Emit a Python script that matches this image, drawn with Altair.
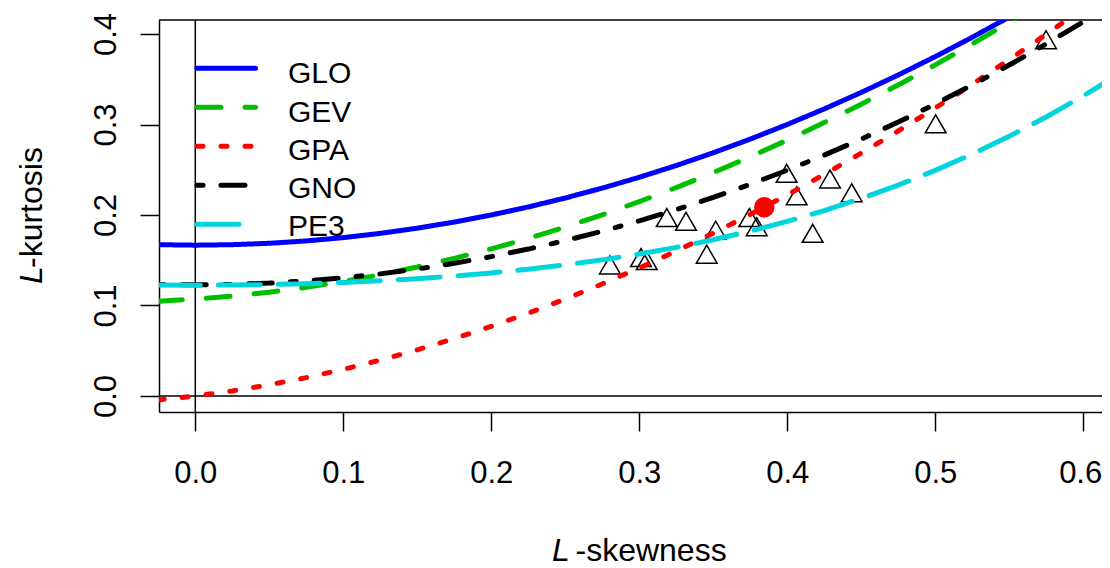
import altair as alt
import pandas as pd

# ---------------- data ----------------
t3_grid = [-0.025, 0.0, 0.025, 0.05, 0.075, 0.1, 0.125, 0.15, 0.175, 0.2,
           0.225, 0.25, 0.275, 0.3, 0.325, 0.35, 0.375, 0.4, 0.425, 0.45,
           0.475, 0.5, 0.525, 0.55, 0.575, 0.6, 0.625]

glo = [0.16719, 0.16667, 0.16719, 0.16875, 0.17135, 0.17500, 0.17969, 0.18542,
       0.19219, 0.20000, 0.20885, 0.21875, 0.22969, 0.24167, 0.25469, 0.26875,
       0.28385, 0.30000, 0.31719, 0.33542, 0.35469, 0.37500, 0.39635, 0.41875,
       0.44219]
gev = [0.10477, 0.10701, 0.11031, 0.11467, 0.12007, 0.12652, 0.13400, 0.14251,
       0.15204, 0.16259, 0.17415, 0.18671, 0.20026, 0.21480, 0.23033, 0.24683,
       0.26429, 0.28271, 0.30209, 0.32240, 0.34366, 0.36585, 0.38896, 0.41299,
       0.43793]
gpa = [-0.00440, 0.00000, 0.00560, 0.01238, 0.02032, 0.02941, 0.03963, 0.05097,
       0.06341, 0.07692, 0.09151, 0.10714, 0.12382, 0.14151, 0.16021, 0.17991,
       0.20058, 0.22222, 0.24482, 0.26835, 0.29281, 0.31818, 0.34446, 0.37162,
       0.39966, 0.42857]
gno = [0.12330, 0.12282, 0.12330, 0.12476, 0.12718, 0.13058, 0.13496, 0.14032,
       0.14667, 0.15401, 0.16236, 0.17172, 0.18209, 0.19349, 0.20592, 0.21940,
       0.23392, 0.24951, 0.26616, 0.28389, 0.30270, 0.32260, 0.34361, 0.36573,
       0.38897, 0.41334, 0.43888]
pe3 = [0.12259, 0.12240, 0.12259, 0.12316, 0.12412, 0.12551, 0.12734, 0.12965,
       0.13251, 0.13594, 0.14003, 0.14483, 0.15041, 0.15686, 0.16425, 0.17266,
       0.18217, 0.19288, 0.20487, 0.21822, 0.23302, 0.24935, 0.26727, 0.28688,
       0.30824, 0.33142, 0.35648]

site_t3 = [0.2802, 0.3012, 0.3051, 0.3186, 0.3316, 0.3456, 0.3517, 0.3744,
           0.3794, 0.3996, 0.4064, 0.4172, 0.4289, 0.4436, 0.5003, 0.5749]
site_t4 = [0.1448, 0.1530, 0.1497, 0.1972, 0.1930, 0.1567, 0.1832, 0.1972,
           0.1871, 0.2461, 0.2212, 0.1798, 0.2398, 0.2245, 0.3008, 0.3937]

mean_t3 = [0.3845]
mean_t4 = [0.2085]

dist_names = ["GLO", "GEV", "GPA", "GNO", "PE3"]
dist_values = [glo, gev, gpa, gno, pe3]
dist_colors = ["#0000FF", "#00BE00", "#FF0000", "#000000", "#00D5DD"]
dist_dash = [[1, 0], [24, 24], [6, 18], [6, 18, 24, 18], [42, 18]]

x_ticks = [0.0, 0.1, 0.2, 0.3, 0.4, 0.5, 0.6]
y_ticks = [0.0, 0.1, 0.2, 0.3, 0.4]

# ---------------- tables ----------------
rows = []
for name, vals in zip(dist_names, dist_values):
    for t3, t4 in zip(t3_grid, vals):
        rows.append({"dist": name, "t3": t3, "t4": t4})
curves = pd.DataFrame(rows)
sites = pd.DataFrame({"t3": site_t3, "t4": site_t4})
mean = pd.DataFrame({"t3": mean_t3, "t4": mean_t4})
one = pd.DataFrame({"a": [0]})

FONT = "Liberation Sans"
W, H = 943, 392

xs = alt.Scale(domain=[-0.02453, 0.61272], nice=False, zero=False)
ys = alt.Scale(domain=[-0.01768, 0.41547], nice=False, zero=False)

xaxis = alt.Axis(values=x_ticks, format=".1f", title=None, grid=False,
                 tickSize=19, tickWidth=1.5, tickColor="black",
                 domainColor="black", domainWidth=1.5,
                 labelFont=FONT, labelFontSize=31, labelColor="black",
                 labelPadding=51, labelBaseline="alphabetic",
                 labelOffset=alt.condition("datum.value > 0.55",
                                           alt.value(-3), alt.value(0)),
                 labelFlush=False, labelOverlap=False)
yaxis = alt.Axis(values=y_ticks, format=".1f", title=None, grid=False,
                 tickSize=19, tickWidth=1.5, tickColor="black",
                 domainColor="black", domainWidth=1.5,
                 labelFont=FONT, labelFontSize=31, labelColor="black",
                 labelAngle=270, labelAlign="center", labelBaseline="alphabetic",
                 labelPadding=25, labelFlush=False, labelOverlap=False)

X = alt.X("t3:Q", scale=xs, axis=xaxis)
Y = alt.Y("t4:Q", scale=ys, axis=yaxis)

layers = []

# top frame line
layers.append(alt.Chart(one).mark_rule(color="black", strokeWidth=1.5).encode(
    x=alt.value(0), x2=alt.value(W), y=alt.value(0)))

# reference lines at 0
layers.append(alt.Chart(pd.DataFrame({"t4": [0.0]})).mark_rule(
    color="black", strokeWidth=1.5).encode(y=Y))
layers.append(alt.Chart(pd.DataFrame({"t3": [0.0]})).mark_rule(
    color="black", strokeWidth=1.5).encode(x=X))

# site points
layers.append(alt.Chart(sites).mark_point(
    shape="triangle-up", size=430, filled=False, color="black",
    strokeWidth=1.5, opacity=1).encode(x=X, y=Y))

# theoretical curves
for name, col, dash in zip(dist_names, dist_colors, dist_dash):
    layers.append(alt.Chart(curves).transform_filter(
        alt.datum.dist == name).mark_line(
        clip=True, strokeWidth=5, strokeCap="round", color=col,
        strokeDash=dash).encode(x=X, y=Y))

# regional mean
layers.append(alt.Chart(mean).mark_circle(size=420, color="#FF0000",
                                          opacity=1).encode(x=X, y=Y))

# legend
for i, (name, col, dash) in enumerate(zip(dist_names, dist_colors, dist_dash)):
    y_line = 48.3 + 39.0 * i
    y_text = 63.3 + 38.2 * i
    layers.append(alt.Chart(one).mark_rule(
        color=col, strokeWidth=5, strokeCap="round", strokeDash=dash).encode(
        x=alt.value(38), x2=alt.value(96.5), y=alt.value(y_line)))
    layers.append(alt.Chart(one).mark_text(
        align="left", baseline="alphabetic", font=FONT, fontSize=30,
        color="black").encode(x=alt.value(129), y=alt.value(y_text),
                              text=alt.value(name)))

# axis titles
TS = 32
layers.append(alt.Chart(one).mark_text(
    align="left", baseline="alphabetic", font=FONT, fontSize=TS,
    fontStyle="italic", color="black").encode(
    x=alt.value(393.0), y=alt.value(540.5), text=alt.value("L")))
layers.append(alt.Chart(one).mark_text(
    align="left", baseline="alphabetic", font=FONT, fontSize=TS,
    color="black").encode(
    x=alt.value(416.5), y=alt.value(540.5), text=alt.value("-skewness")))
layers.append(alt.Chart(one).mark_text(
    align="left", baseline="alphabetic", font=FONT, fontSize=TS,
    fontStyle="italic", color="black", angle=270).encode(
    x=alt.value(-117), y=alt.value(264), text=alt.value("L")))
layers.append(alt.Chart(one).mark_text(
    align="left", baseline="alphabetic", font=FONT, fontSize=TS,
    color="black", angle=270).encode(
    x=alt.value(-117), y=alt.value(248), text=alt.value("-kurtosis")))

chart = alt.layer(*layers).properties(
    width=W, height=H,
    autosize=alt.AutoSizeParams(type="none"),
    padding={"left": 151, "top": 12, "right": 0, "bottom": 154},
).configure_view(stroke=None)

chart.save("out.html", embed_options={"renderer": "svg", "actions": False})
